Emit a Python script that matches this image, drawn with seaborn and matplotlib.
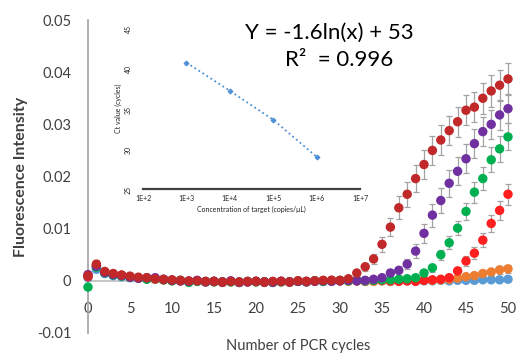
import matplotlib
matplotlib.use('Agg')
import matplotlib.pyplot as plt
import seaborn as sns
import numpy as np
import pandas as pd

# PCR cycles 0..50
cycles = list(range(51))

# fluorescence intensity per sample, in units of 1e-4
blue = [6, 22, 14, 10, 8, 6, 5, 4, 3, 2, 1,
        0, -1, 0, -1, -1, -2, -1, -2, -2, -1,
        -2, -2, -1, -2, -1, -1, 0, -1, 0, 0,
        0, 0, -1, 0, 0, -1, 0, 0, 0, 0,
        0, 1, 0, 1, 1, 1, 2, 2, 2, 3]
orange = [10, 28, 16, 12, 10, 7, 5, 4, 3, 2, 0,
          0, -2, -1, -2, -2, -3, -2, -3, -2, -2,
          -3, -2, -2, -3, -1, -2, -1, -1, 0, 0,
          -1, 0, -1, -1, 0, -1, 0, 0, 1, 1,
          1, 2, 3, 5, 8, 10, 14, 17, 21, 23]
red = [8, 30, 17, 13, 11, 8, 6, 4, 4, 2, 1,
       0, -2, 0, -2, -1, -3, -1, -3, -2, -1,
       -3, -2, -1, -2, 0, -1, 0, 0, 1, 0,
       1, 0, 0, 1, 1, 0, -1, 0, -1, 1,
       2, 3, 6, 19, 38, 53, 78, 110, 135, 166]
green = [-12, 26, 15, 11, 9, 7, 6, 3, 4, 2, 0,
         1, -3, -1, -2, -2, -2, -2, -3, -1, -2,
         -2, -3, -2, -2, -1, -2, 0, -1, 0, 1,
         0, 1, 0, 1, 2, 2, 3, 4, 6, 15,
         25, 50, 73, 101, 133, 170, 196, 232, 253, 276]
purple = [12, 28, 16, 12, 10, 7, 5, 6, 6, 3, 1,
          0, -1, 1, -2, -1, -2, 0, -3, -2, -1,
          -2, -3, -1, -2, -1, -2, -1, 0, -1, 0,
          1, 0, 1, 3, 6, 15, 20, 32, 57, 91,
          126, 154, 187, 210, 234, 263, 286, 300, 318, 330]
darkred = [10, 32, 18, 14, 11, 9, 7, 6, 4, 3, 2,
           1, 0, 0, -1, -1, -2, -1, -2, -1, -1,
           -2, -1, -1, -2, 0, -1, 0, 1, 1, 1,
           4, 15, 27, 42, 70, 103, 140, 166, 196, 223,
           250, 270, 288, 305, 327, 333, 350, 364, 375, 387]

# error bar half-lengths, same units
blue_err = [3, 5, 3, 3, 3, 3, 3, 3, 3, 3, 3,
            3, 3, 3, 3, 3, 3, 3, 3, 3, 3,
            3, 3, 3, 3, 3, 3, 3, 3, 3, 3,
            3, 3, 3, 3, 3, 3, 3, 3, 3, 3,
            3, 3, 3, 3, 3, 3, 3, 3, 3, 3]
orange_err = [3, 5, 3, 3, 3, 3, 3, 3, 3, 3, 3,
              3, 3, 3, 3, 3, 3, 3, 3, 3, 3,
              3, 3, 3, 3, 3, 3, 3, 3, 3, 3,
              3, 3, 3, 3, 3, 3, 3, 3, 3, 3,
              3, 3, 4, 4, 5, 5, 6, 6, 7, 8]
red_err = [3, 5, 3, 3, 3, 3, 3, 3, 3, 3, 3,
           3, 3, 3, 3, 3, 3, 3, 3, 3, 3,
           3, 3, 3, 3, 3, 3, 3, 3, 3, 3,
           3, 3, 3, 3, 3, 3, 3, 3, 3, 3,
           3, 4, 5, 7, 9, 11, 14, 16, 18, 20]
green_err = [3, 5, 3, 3, 3, 3, 3, 3, 3, 3, 3,
             3, 3, 3, 3, 3, 3, 3, 3, 3, 3,
             3, 3, 3, 3, 3, 3, 3, 3, 3, 3,
             3, 3, 3, 3, 3, 3, 4, 4, 5, 6,
             8, 10, 12, 14, 17, 20, 22, 24, 25, 26]
purple_err = [3, 5, 3, 3, 3, 3, 3, 3, 3, 3, 3,
              3, 3, 3, 3, 3, 3, 3, 3, 3, 3,
              3, 3, 3, 3, 3, 3, 3, 3, 3, 3,
              3, 3, 3, 4, 5, 7, 8, 10, 14, 18,
              22, 24, 26, 27, 28, 28, 28, 28, 28, 28]
darkred_err = [5, 8, 5, 4, 4, 3, 3, 3, 3, 3, 3,
               3, 3, 3, 3, 3, 3, 3, 3, 3, 3,
               3, 3, 3, 3, 3, 3, 3, 3, 3, 3,
               4, 6, 8, 10, 14, 18, 22, 24, 26, 27,
               28, 28, 28, 29, 29, 29, 30, 30, 30, 30]

series = ['S1', 'S2', 'S3', 'S4', 'S5', 'S6']
values = [blue, orange, red, green, purple, darkred]
errors = [blue_err, orange_err, red_err, green_err, purple_err, darkred_err]
colors = ['#5b9bd5', '#ed7d31', '#ff1f1f', '#00b050', '#7030a0', '#c0282a']

yticks = [-0.01, 0, 0.01, 0.02, 0.03, 0.04, 0.05]
ylabels = ['-0.01', '0', '0.01', '0.02', '0.03', '0.04', '0.05']
xticks = [0, 5, 10, 15, 20, 25, 30, 35, 40, 45, 50]

# inset: standard curve
conc = [1e3, 1e4, 1e5, 1e6]
ct = [40.7, 37.2, 33.6, 29.0]
inset_xticks = [1e2, 1e3, 1e4, 1e5, 1e6, 1e7]
inset_xlabels = ['1E+2', '1E+3', '1E+4', '1E+5', '1E+6', '1E+7']
inset_yticks = [25, 30, 35, 40, 45]

rows = []
for name, v, e in zip(series, values, errors):
    for c, vi, ei in zip(cycles, v, e):
        rows.append({'cycle': c, 'intensity': vi / 1e4, 'err': ei / 1e4, 'series': name})
df = pd.DataFrame(rows)

sns.set_theme(style='white')
plt.rcParams['font.family'] = ['Lato', 'DejaVu Sans']

fig = plt.figure(figsize=(5.17, 3.58), dpi=100)
ax = fig.add_axes([88 / 517, 25 / 358, 420 / 517, 313 / 358])

for name, col in zip(series, colors):
    d = df[df['series'] == name]
    ax.errorbar(d['cycle'], d['intensity'], yerr=d['err'], fmt='none',
                ecolor='#a3a3a3', elinewidth=0.9, capsize=2, capthick=0.9,
                zorder=2, clip_on=False)
sns.scatterplot(data=df, x='cycle', y='intensity', hue='series', palette=colors,
                s=46, edgecolor='none', legend=False, ax=ax, zorder=3, clip_on=False)

ax.set_xlim(0, 50)
ax.set_ylim(-0.01, 0.05)
ax.spines['top'].set_visible(False)
ax.spines['right'].set_visible(False)
ax.spines['bottom'].set_position(('data', 0))
ax.spines['bottom'].set_color('#bfbfbf')
ax.spines['left'].set_color('#a6a6a6')
ax.set_xticks(xticks)
ax.set_yticks(yticks)
ax.set_yticklabels(ylabels)
ax.tick_params(axis='x', length=0, pad=15, labelsize=10.5, labelcolor='#404040')
ax.tick_params(axis='y', length=2, direction='in', color='#a6a6a6', pad=12,
               labelsize=10.5, labelcolor='#404040')
ax.set_xlabel('Number of PCR cycles', fontsize=10.5, color='#404040')
ax.xaxis.set_label_coords(0.5, -0.02)
ax.set_ylabel('Fluorescence Intensity', fontsize=11.5, color='#404040', fontweight='bold')
ax.yaxis.set_label_coords(-0.142, 0.5)

ax.text(245 / 517, 1 - 33 / 358, 'Y = -1.6ln(x) + 53', transform=fig.transFigure,
        fontsize=16, va='center', ha='left', color='black')
ax.text(285 / 517, 1 - 60 / 358, 'R\u00b2  = 0.996', transform=fig.transFigure,
        fontsize=16, va='center', ha='left', color='black')

# inset
ins = fig.add_axes([143 / 517, 169 / 358, 217 / 517, 161 / 358])
ins.patch.set_alpha(0)
sns.lineplot(x=conc, y=ct, ax=ins, color='#4f8fd6', linestyle=':', linewidth=1.3,
             marker='D', markersize=2.5, markeredgecolor='#4f8fd6')
ins.set_xscale('log')
ins.set_xlim(1e2, 1e7)
ins.set_ylim(25, 45)
ins.set_xticks(inset_xticks)
ins.set_xticklabels(inset_xlabels)
ins.minorticks_off()
ins.set_yticks(inset_yticks)
for s in ['top', 'right', 'left']:
    ins.spines[s].set_visible(False)
ins.spines['bottom'].set_color('#404040')
ins.spines['bottom'].set_linewidth(1.6)
ins.tick_params(axis='x', length=0, pad=4, labelsize=5, labelcolor='#222222')
ins.tick_params(axis='y', length=0, pad=8, labelsize=5, labelcolor='#222222', labelrotation=90)
ins.set_xlabel('Concentration of target (copies/\u03bcL)', fontsize=5, color='#222222', labelpad=3)
ins.set_ylabel('Ct value (cycles)', fontsize=5, color='#222222', labelpad=2)

fig.savefig('out.png', dpi=100)
